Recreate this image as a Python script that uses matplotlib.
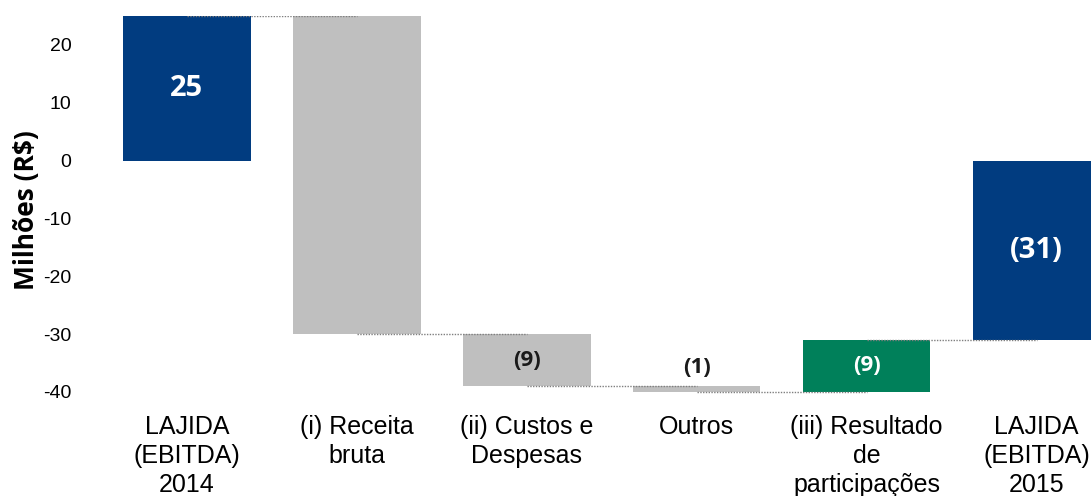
import matplotlib
matplotlib.use("Agg")
import matplotlib.pyplot as plt

# Waterfall data (R$ millions)
categories = ["LAJIDA\n(EBITDA)\n2014", "(i) Receita\nbruta", "(ii) Custos e\nDespesas",
              "Outros", "(iii) Resultado\nde\nparticipações", "LAJIDA\n(EBITDA)\n2015"]
changes = [25, -55, -9, -1, 9, -31]
kinds = ["total", "delta", "delta", "delta", "delta", "total"]
value_labels = ["25", "", "(9)", "(1)", "(9)", "(31)"]
bar_colors = ["#013C80", "#BFBFBF", "#BFBFBF", "#BFBFBF", "#00805A", "#013C80"]
label_colors = ["white", None, "#1a1a1a", "#1a1a1a", "white", "white"]
yticks = [20, 10, 0, -10, -20, -30, -40]

fig = plt.figure(figsize=(10.91, 4.96), dpi=100)
ax = fig.add_axes([102 / 1091, 1 - 404 / 496, 1 - 102 / 1091, (404 - 16) / 496])

label_font = "Open Sans"
tick_font = "Liberation Sans"

level = 0.0
levels = []
width = 0.75
for i, (chg, kind) in enumerate(zip(changes, kinds)):
    if kind == "total":
        bottom, top = 0.0, chg
        level = chg
    else:
        bottom, top = level, level + chg
        level = level + chg
    lo, hi = min(bottom, top), max(bottom, top)
    ax.bar(i, hi - lo, bottom=lo, width=width, color=bar_colors[i], zorder=2)
    levels.append(level)
    txt = value_labels[i]
    if txt:
        if i == 3:
            ypos = hi + 3.2
        else:
            ypos = (lo + hi) / 2
        size = 21 if kind == "total" else 16
        ax.text(i, ypos, txt, ha="center", va="center", color=label_colors[i],
                fontsize=size, fontweight="bold", family=label_font, zorder=4)

# Dotted connectors between consecutive bars
for i in range(len(changes) - 1):
    ax.plot([i, i + 1], [levels[i], levels[i]], linestyle=(0, (1, 1)),
            color="#7F7F7F", linewidth=1.0, zorder=3)

ax.set_xlim(-0.5, 5.32)
ax.set_ylim(-42.1, 25)
ax.set_yticks(yticks)
ax.set_yticklabels([str(t) for t in yticks], fontsize=14, family=tick_font)
ax.set_xticks(range(len(categories)))
ax.set_xticklabels(categories, fontsize=18, family=tick_font, linespacing=1.25)
ax.tick_params(axis="both", length=0)
ax.tick_params(axis="y", pad=22)
ax.tick_params(axis="x", pad=8)
for s in ax.spines.values():
    s.set_visible(False)

ax.set_ylabel("Milhões (R$)", fontsize=19, fontweight="bold", family=label_font, labelpad=2)

fig.savefig("out.png", dpi=100)
